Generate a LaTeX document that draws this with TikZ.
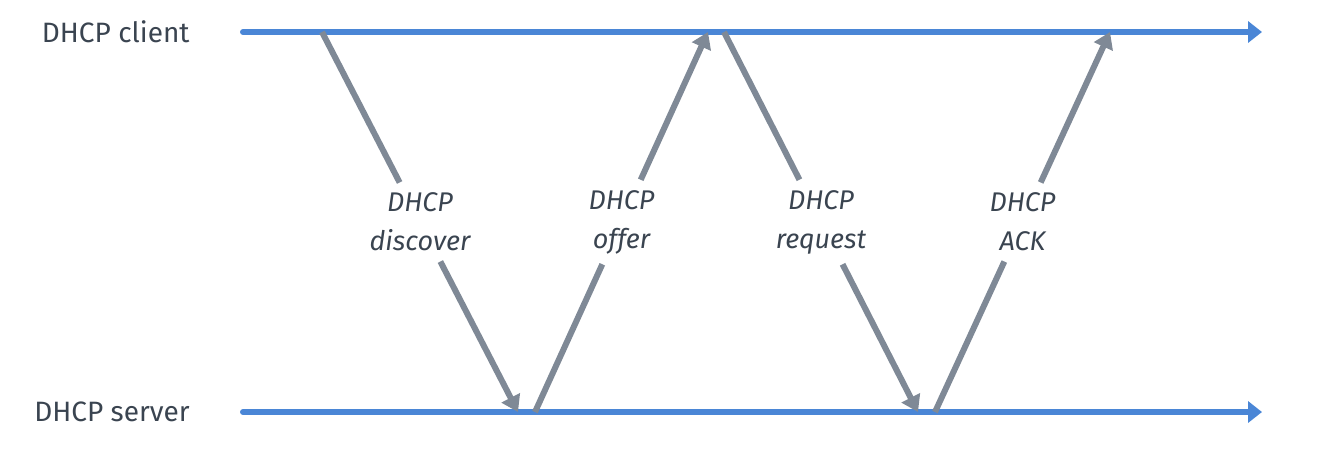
\documentclass[tikz,border=0pt]{standalone}
\usepackage{fontspec}
\setmainfont{Fira Sans}
\usetikzlibrary{arrows.meta}
\definecolor{lineblue}{RGB}{74,134,214}
\definecolor{msggray}{RGB}{127,137,150}
\definecolor{txtgray}{RGB}{58,68,80}
\tikzset{
  timeline/.style={line width=3pt,lineblue,line cap=round,-{Triangle[length=7pt,width=10.5pt]}},
  msg/.style={line width=3pt,msggray},
  msgtip/.style={msg,-{Triangle[length=8pt,width=10pt]}},
  lbl/.style={font=\fontsize{13.5}{19.5}\selectfont\itshape,text=txtgray,align=center,inner xsep=2pt,inner ysep=5pt},
  host/.style={font=\fontsize{14}{17}\selectfont,text=txtgray,anchor=east,inner sep=0pt}
}
\begin{document}
\begin{tikzpicture}[x=0.5pt,y=-0.5pt]
    \useasboundingbox (0,0) rectangle (1320,452);
    % client e server
    \node[host] (client) at (190,32) {DHCP client};
    \node[host] (server) at (190,412) {DHCP server};
    % linee del tempo
    \coordinate (cstart) at (243,32);\coordinate (cend) at (1262,32);
    \coordinate (sstart) at (243,412);\coordinate (send) at (1262,412);
    \draw[timeline] (cstart) -- (cend);
    \draw[timeline] (sstart) -- (send);
    % punti dei messaggi
    \coordinate (c1) at (322,32);\coordinate (s1) at (518,412);
    \coordinate (s2) at (535,412);\coordinate (c2) at (708,32);
    \coordinate (c3) at (724,32);\coordinate (s3) at (918,412);
    \coordinate (s4) at (935,412);\coordinate (c4) at (1110,32);
    % etichette
    \path (c1) -- (s1) node[lbl,midway] (discover) {DHCP\\discover};
    \path (s2) -- (c2) node[lbl,midway] (offer) {DHCP\\offer};
    \path (c3) -- (s3) node[lbl,midway] (request) {DHCP\\request};
    \path (s4) -- (c4) node[lbl,midway] (ack) {DHCP\\ACK};
    % messaggi
    \draw[msg] (c1) -- (discover);\draw[msgtip] (discover) -- (s1);
    \draw[msg] (s2) -- (offer);\draw[msgtip] (offer) -- (c2);
    \draw[msg] (c3) -- (request);\draw[msgtip] (request) -- (s3);
    \draw[msg] (s4) -- (ack);\draw[msgtip] (ack) -- (c4);
\end{tikzpicture}
\end{document}
